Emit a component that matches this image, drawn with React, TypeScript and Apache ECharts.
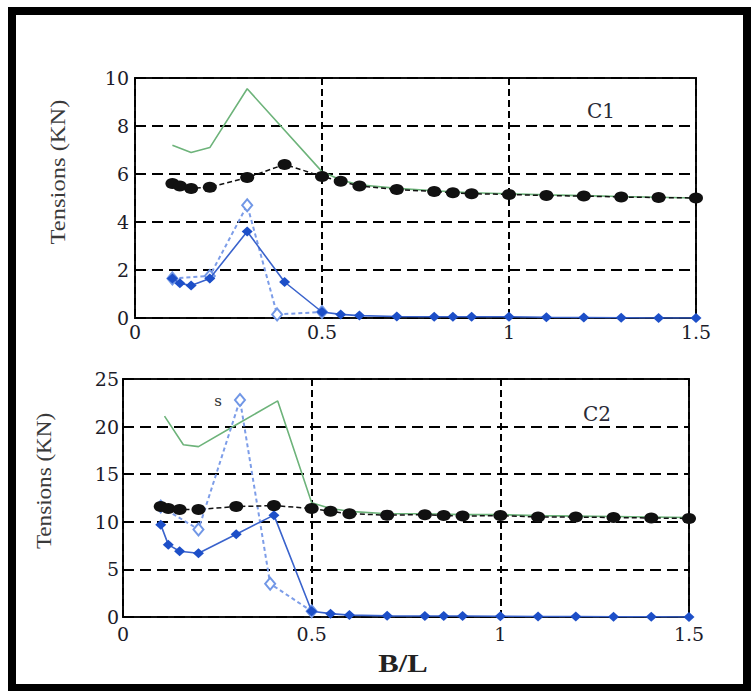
import React, { useEffect, useRef } from "react";
import * as echarts from "echarts";

// ---- Panel C1 data ----
const xC1 = [0.1, 0.12, 0.15, 0.2, 0.3, 0.4, 0.5, 0.55, 0.6, 0.7, 0.8, 0.85, 0.9, 1.0, 1.1, 1.2, 1.3, 1.4, 1.5];
const blackC1 = [5.6, 5.5, 5.4, 5.45, 5.85, 6.4, 5.9, 5.7, 5.5, 5.35, 5.27, 5.22, 5.18, 5.15, 5.1, 5.08, 5.04, 5.02, 5.0];
const blueC1 = [1.65, 1.45, 1.35, 1.65, 3.6, 1.5, 0.25, 0.15, 0.1, 0.06, 0.05, 0.05, 0.05, 0.05, 0.03, 0.02, 0.01, 0.0, 0.0];
const xGreenC1 = [0.1, 0.15, 0.2, 0.3, 0.5, 0.55, 0.6, 0.7, 0.8, 0.9, 1.0, 1.1, 1.2, 1.3, 1.4, 1.5];
const greenC1 = [7.2, 6.9, 7.1, 9.55, 6.1, 5.75, 5.55, 5.4, 5.3, 5.22, 5.18, 5.13, 5.1, 5.06, 5.03, 5.0];
const xDashC1 = [0.1, 0.2, 0.3, 0.38, 0.5];
const dashC1 = [1.65, 1.75, 4.7, 0.15, 0.25];

// ---- Panel C2 data ----
const xC2 = [0.1, 0.12, 0.15, 0.2, 0.3, 0.4, 0.5, 0.55, 0.6, 0.7, 0.8, 0.85, 0.9, 1.0, 1.1, 1.2, 1.3, 1.4, 1.5];
const blackC2 = [11.6, 11.4, 11.3, 11.3, 11.6, 11.7, 11.4, 11.1, 10.85, 10.7, 10.75, 10.65, 10.6, 10.65, 10.5, 10.5, 10.45, 10.4, 10.35];
const blueC2 = [9.7, 7.6, 6.9, 6.7, 8.7, 10.7, 0.6, 0.35, 0.2, 0.12, 0.1, 0.1, 0.1, 0.08, 0.06, 0.05, 0.03, 0.02, 0.0];
const xGreenC2 = [0.11, 0.16, 0.2, 0.3, 0.41, 0.5, 0.55, 0.6, 0.7, 0.8, 0.9, 1.0, 1.1, 1.2, 1.3, 1.4, 1.5];
const greenC2 = [21.1, 18.1, 17.9, 20.2, 22.7, 12.0, 11.4, 11.1, 10.85, 10.85, 10.75, 10.75, 10.65, 10.6, 10.55, 10.5, 10.45];
const xDashC2 = [0.1, 0.2, 0.31, 0.39, 0.5];
const dashC2 = [11.6, 9.2, 22.8, 3.5, 0.6];

// ---- Axes ----
const xTickInterval = 0.5;
const xMax = 1.5;
const yMaxC1 = 10;
const yIntervalC1 = 2;
const yMaxC2 = 25;
const yIntervalC2 = 5;

const pts = (xs: number[], ys: number[]) => xs.map((x, i) => [x, ys[i]]);

const LABEL_FONT = "DejaVu Serif";
const NAME_FONT = "Liberation Serif";

function makeXAxis(gridIndex: number, margin: number) {
  return {
    type: "value",
    gridIndex,
    min: 0,
    max: xMax,
    interval: xTickInterval,
    axisLine: { show: false },
    axisTick: { show: false },
    axisLabel: {
      fontFamily: LABEL_FONT,
      fontSize: 19,
      color: "#1c1c2a",
      margin,
      formatter: (v: number) => String(v),
    },
    splitLine: {
      show: true,
      lineStyle: { color: "#000", width: 2, type: [7, 4] },
    },
  };
}

function makeYAxis(gridIndex: number, max: number, interval: number, margin: number) {
  return {
    type: "value",
    gridIndex,
    min: 0,
    max,
    interval,
    axisLine: { show: false },
    axisTick: { show: true, inside: true, length: 5, lineStyle: { color: "#000", width: 1.5 } },
    axisLabel: {
      fontFamily: LABEL_FONT,
      fontSize: 19,
      color: "#1c1c2a",
      margin,
    },
    splitLine: {
      show: true,
      lineStyle: { color: "#000", width: 2, type: [11, 6] },
    },
  };
}

function panelSeries(
  idx: number,
  xBlack: number[],
  black: number[],
  blue: number[],
  xGreen: number[],
  green: number[],
  xDash: number[],
  dash: number[]
) {
  return [
    {
      type: "line",
      xAxisIndex: idx,
      yAxisIndex: idx,
      data: pts(xGreen, green),
      symbol: "none",
      lineStyle: { color: "#6db37a", width: 1.6 },
      z: 2,
    },
    {
      type: "line",
      xAxisIndex: idx,
      yAxisIndex: idx,
      data: pts(xDash, dash),
      symbol: "diamond",
      symbolSize: [10, 12],
      itemStyle: { color: "#ffffff", borderColor: "#7197e6", borderWidth: 2 },
      lineStyle: { color: "#7d9de8", width: 2, type: [4, 3] },
      z: 3,
    },
    {
      type: "line",
      xAxisIndex: idx,
      yAxisIndex: idx,
      data: pts(xBlack, blue),
      symbol: "diamond",
      symbolSize: [11, 10],
      itemStyle: { color: "#1d4fc8" },
      lineStyle: { color: "#3a63cc", width: 1.6 },
      z: 4,
    },
    {
      type: "line",
      xAxisIndex: idx,
      yAxisIndex: idx,
      data: pts(xBlack, black),
      symbol: "circle",
      symbolSize: [14, 11],
      itemStyle: { color: "#111111" },
      lineStyle: { color: "#111111", width: 1.5, type: [5, 3] },
      z: 5,
    },
  ];
}

export default function App() {
  const ref = useRef<HTMLDivElement>(null);

  useEffect(() => {
    if (!ref.current) return;
    const chart = echarts.init(ref.current, undefined, { renderer: "svg" });
    const option = {
      animation: false,
      backgroundColor: "#ffffff",
      grid: [
        { left: 135, top: 78, width: 561, height: 240, show: true, borderColor: "#111", borderWidth: 2, backgroundColor: "transparent" },
        { left: 123, top: 379, width: 566, height: 238, show: true, borderColor: "#111", borderWidth: 2, backgroundColor: "transparent" },
      ],
      xAxis: [makeXAxis(0, 4), makeXAxis(1, 7)],
      yAxis: [makeYAxis(0, yMaxC1, yIntervalC1, 6), makeYAxis(1, yMaxC2, yIntervalC2, 4)],
      series: [
        ...panelSeries(0, xC1, blackC1, blueC1, xGreenC1, greenC1, xDashC1, dashC1),
        ...panelSeries(1, xC2, blackC2, blueC2, xGreenC2, greenC2, xDashC2, dashC2),
      ],
      graphic: [
        {
          type: "rect",
          shape: { x: 12, y: 11, width: 735, height: 677 },
          style: { fill: "none", stroke: "#000", lineWidth: 8 },
          z: 100,
        },
        {
          type: "text",
          x: 601,
          y: 111,
          style: { text: "C1", font: `20px "${LABEL_FONT}"`, fill: "#2a2a36", textAlign: "center", textVerticalAlign: "middle" },
        },
        {
          type: "text",
          x: 597,
          y: 414,
          style: { text: "C2", font: `20px "${LABEL_FONT}"`, fill: "#2a2a36", textAlign: "center", textVerticalAlign: "middle" },
        },
        {
          type: "text",
          x: 218,
          y: 401,
          style: { text: "s", font: `15px "${LABEL_FONT}"`, fill: "#333", textAlign: "center", textVerticalAlign: "middle" },
        },
        {
          type: "text",
          x: 58,
          y: 172,
          rotation: Math.PI / 2,
          scaleX: 1.17,
          style: { text: "Tensions (KN)", font: `21px "${NAME_FONT}"`, fill: "#3a3a3a", textAlign: "center", textVerticalAlign: "middle" },
        },
        {
          type: "text",
          x: 44,
          y: 481,
          rotation: Math.PI / 2,
          scaleX: 1.1,
          style: { text: "Tensions (KN)", font: `21px "${NAME_FONT}"`, fill: "#3a3a3a", textAlign: "center", textVerticalAlign: "middle" },
        },
        {
          type: "text",
          x: 403,
          y: 663,
          scaleX: 1.18,
          style: { text: "B/L", font: `bold 26px "${NAME_FONT}"`, fill: "#222", textAlign: "center", textVerticalAlign: "middle" },
        },
      ],
    };
    chart.setOption(option as any);
    return () => chart.dispose();
  }, []);

  return (
    <div
      ref={ref}
      style={{ position: "fixed", left: 0, top: 0, width: 751, height: 691, background: "#fff" }}
    />
  );
}
